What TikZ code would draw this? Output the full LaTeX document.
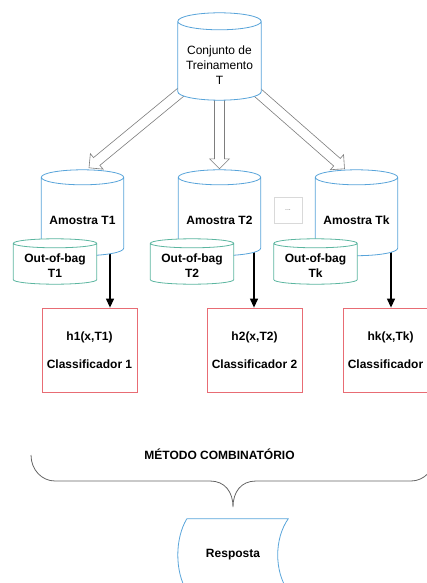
\documentclass[tikz,border=0pt]{standalone}
\usepackage{fontspec}
\setmainfont{Liberation Sans}
\usetikzlibrary{calc}
\usetikzlibrary{arrows.meta}

\pgfdeclarelayer{arrowlayer}
\pgfdeclarelayer{drumlayer}
\pgfsetlayers{arrowlayer,drumlayer,main}

\definecolor{drumblue}{RGB}{88,164,218}
\definecolor{bagteal}{RGB}{92,182,160}
\definecolor{boxred}{RGB}{232,108,116}
\definecolor{arrowgray}{RGB}{125,125,125}

% cylinder round a node: node, half height of the ellipse, colour
\newcommand\drum[3]{%
\draw[#3, line width=0.8pt, fill=white]
  let \p1=($(#1.north east)-(#1.north west)$), \n1={0.5*\x1} in
  ([yshift=#2]#1.north west) -- ([yshift=#2]#1.south west)
  arc[start angle=180, end angle=360, x radius=\n1, y radius=#2]
  -- ([yshift=#2]#1.north east)
  arc[start angle=0, end angle=180, x radius=\n1, y radius=#2] -- cycle
  ([yshift=#2]#1.north west)
  arc[start angle=180, end angle=360, x radius=\n1, y radius=#2];
}
% wide hollow arrow from #1 to #2
\newcommand\hollowarrow[2]{%
\coordinate (ha-s) at #1;
\coordinate (ha-e) at #2;
\coordinate (ha-b) at ($(ha-e)!10pt!(ha-s)$);
\draw[hollow] ($(ha-s)!5pt!90:(ha-e)$) -- ($(ha-b)!5pt!90:(ha-e)$)
  -- ($(ha-b)!10pt!90:(ha-e)$) -- (ha-e) -- ($(ha-b)!10pt!-90:(ha-e)$)
  -- ($(ha-b)!5pt!-90:(ha-e)$) -- ($(ha-s)!5pt!-90:(ha-e)$) -- cycle;
}

\begin{document}
\begin{tikzpicture}[x=1pt, y=-1pt,
  every node/.style={font=\fontsize{12}{15}\selectfont, align=center, inner sep=0pt},
  bold/.style={font=\fontsize{12}{15}\selectfont\bfseries},
  sample/.style={bold, minimum width=82pt, minimum height=70.5pt},
  bag/.style={bold, minimum width=83pt, minimum height=36pt},
  clf/.style={bold, draw=boxred, line width=0.8pt, minimum width=95pt, minimum height=84pt},
  hollow/.style={draw=arrowgray, fill=white, line width=0.6pt},
  flow/.style={black, line width=1.2pt, ->, >={Triangle[length=9pt,width=8pt]}}]
\useasboundingbox (0,0) rectangle (427,583);

\node[minimum width=83pt, minimum height=70pt] (train) at (219.5,65) {Conjunto de\\Treinamento\\T};

\node[sample] (am1) at (82.5,220.25) {Amostra T1};
\node[sample] (am2) at (219.5,220.25) {Amostra T2};
\node[sample] (amk) at (356.5,220.25) {Amostra Tk};

\node[bag] (oob1) at (55,266) {Out-of-bag\\T1};
\node[bag] (oob2) at (192,266) {Out-of-bag\\T2};
\node[bag] (oobk) at (315.5,266) {Out-of-bag\\Tk};

\node[draw=black!15, line width=0.6pt, minimum width=28pt, minimum height=26pt,
  font=\fontsize{7}{8}\selectfont, text=black!55] (dots) at (288,210) {...};

\node[clf] (clf1) at (89.5,350) {h1(x,T1)\\[13pt]Classificador 1};
\node[clf] (clf2) at (254.5,350) {h2(x,T2)\\[13pt]Classificador 2};
\node[clf] (clfk) at (390.5,350) {hk(x,Tk)\\[13pt]Classificador\phantom{\ k}};

\node[bold] (comb) at (219.5,454) {MÉTODO COMBINATÓRIO};
\node[bold, minimum width=110pt, minimum height=72pt] (resp) at (233,555) {Resposta};

\begin{pgfonlayer}{arrowlayer}
\hollowarrow{([xshift=3pt,yshift=8pt]train.south west)}{([xshift=6.5pt,yshift=17pt]am1.north)}
\hollowarrow{([yshift=3pt]train.south)}{([yshift=16pt]am2.north)}
\hollowarrow{([xshift=-4pt,yshift=8pt]train.south east)}{([xshift=-12pt,yshift=16pt]amk.north)}
\draw[flow] ([xshift=27.5pt,yshift=10pt]am1.south) -- ([xshift=27.5pt]am1.south |- clf1.north);
\draw[flow] ([xshift=34.5pt,yshift=10pt]am2.south) -- ([xshift=34.5pt]am2.south |- clf2.north);
\draw[flow] ([xshift=34.5pt,yshift=10pt]amk.south) -- ([xshift=34.5pt]amk.south |- clfk.north);
\end{pgfonlayer}

\begin{pgfonlayer}{drumlayer}
\drum{train}{8.5pt}{drumblue}
\drum{am1}{7.5pt}{drumblue}
\drum{am2}{7.5pt}{drumblue}
\drum{amk}{7.5pt}{drumblue}
\drum{oob1}{4.5pt}{bagteal}
\drum{oob2}{4.5pt}{bagteal}
\drum{oobk}{4.5pt}{bagteal}
\end{pgfonlayer}

% brace under the classifiers
\draw[black!60, line width=0.8pt] (31,455) .. controls (31,470) and (42,481) .. (55,481)
  -- (210,481) .. controls (225,481) and (233,492) .. (233,507)
  .. controls (233,492) and (241,481) .. (256,481)
  -- (411,481) .. controls (424,481) and (435,470) .. (435,455);

\draw[drumblue, line width=0.8pt] ([xshift=9pt]resp.north west) -- (resp.north east)
  .. controls +(-14,20) and +(-14,-20) .. (resp.south east)
  -- ([xshift=9pt]resp.south west)
  .. controls +(-12,-20) and +(-12,20) .. ([xshift=9pt]resp.north west);
\end{tikzpicture}
\end{document}
